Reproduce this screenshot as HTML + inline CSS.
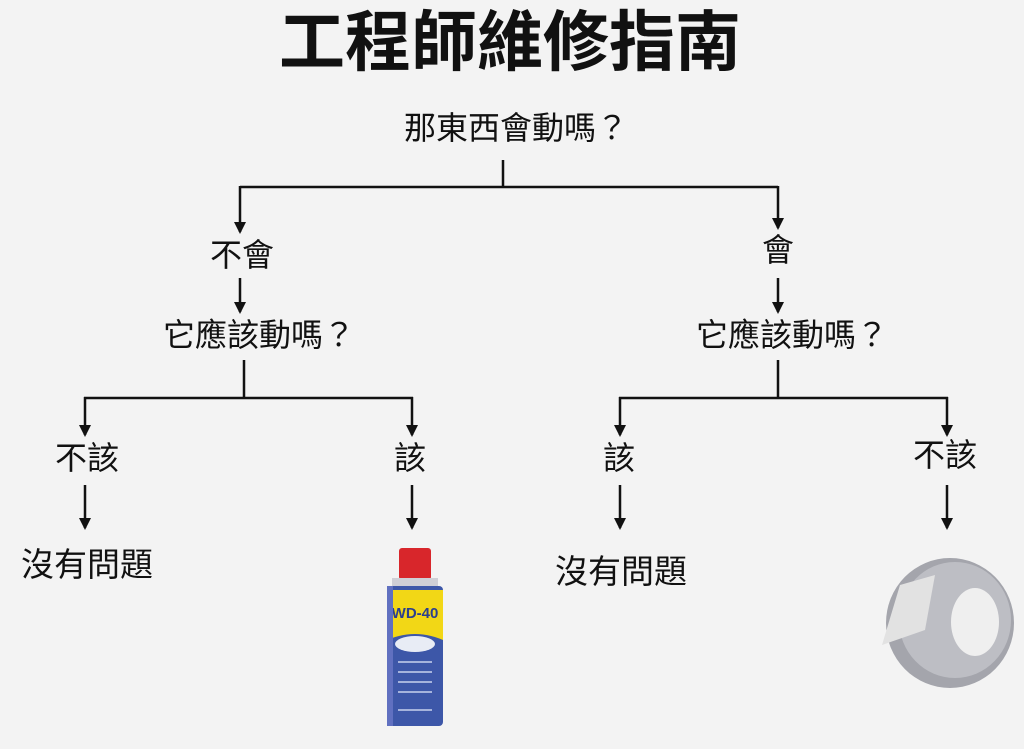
<!DOCTYPE html>
<html><head><meta charset="utf-8"><style>
html,body{margin:0;padding:0}
body{width:1024px;height:749px;background:#f3f3f3;position:relative;overflow:hidden;font-family:"Liberation Sans","Noto Sans CJK TC",sans-serif;color:#111}
.t{position:absolute;white-space:nowrap;line-height:1;transform:translateX(-50%)}
svg{position:absolute;left:0;top:0}
</style></head><body>
<svg width="1024" height="749" viewBox="0 0 1024 749">
<defs><marker id="a" markerWidth="12" markerHeight="12" refX="10" refY="6" orient="auto" markerUnits="userSpaceOnUse"><path d="M0,0 L12,6 L0,12 Z" fill="#111"/></marker></defs>
<g stroke="#111" stroke-width="2.5" fill="none">
<path d="M503 160 V187"/>
<path d="M240 187 H778"/>
<path d="M240 186 V232" marker-end="url(#a)"/>
<path d="M778 186 V228" marker-end="url(#a)"/>
<path d="M240 278 V312" marker-end="url(#a)"/>
<path d="M778 278 V312" marker-end="url(#a)"/>
<path d="M244 360 V398"/>
<path d="M84 398 H413"/>
<path d="M85 397 V435" marker-end="url(#a)"/>
<path d="M412 397 V435" marker-end="url(#a)"/>
<path d="M778 360 V398"/>
<path d="M619 398 H948"/>
<path d="M620 397 V435" marker-end="url(#a)"/>
<path d="M947 397 V435" marker-end="url(#a)"/>
<path d="M85 485 V528" marker-end="url(#a)"/>
<path d="M412 485 V528" marker-end="url(#a)"/>
<path d="M620 485 V528" marker-end="url(#a)"/>
<path d="M947 485 V528" marker-end="url(#a)"/>
</g>
<!-- WD-40 can -->
<rect x="399" y="548" width="32" height="32" rx="3" fill="#d8262b"/>
<rect x="392" y="578" width="46" height="10" fill="#cfcfd6"/>
<rect x="387" y="586" width="56" height="140" rx="4" fill="#3d57a8"/>
<path d="M387 590 H443 V640 Q415 628 387 640 Z" fill="#f2d716"/>
<text x="415" y="618" font-size="15" font-weight="bold" fill="#2b3f8f" text-anchor="middle" font-family="Liberation Sans">WD-40</text>
<ellipse cx="415" cy="644" rx="20" ry="8" fill="#e8ecf5"/>
<g stroke="#c8d2ee" stroke-width="1.5"><path d="M398 662H432M398 672H432M398 682H432M398 692H432M398 710H432"/></g>
<rect x="387" y="586" width="6" height="140" fill="#6070c0"/>
<!-- tape -->
<ellipse cx="950" cy="623" rx="64" ry="65" fill="#a4a5ac"/>
<ellipse cx="955" cy="620" rx="56" ry="58" fill="#bdbec4"/>
<ellipse cx="975" cy="622" rx="24" ry="34" fill="#efefef"/>
<path d="M900 585 L935 575 L925 630 L882 645 Z" fill="#e2e2e2"/>
</svg>
<div class="t" style="left:510px;top:9px;font-size:66px;font-weight:bold">工程師維修指南</div>
<div class="t" style="left:516px;top:112px;font-size:32px">那東西會動嗎？</div>
<div class="t" style="left:242px;top:239px;font-size:32px">不會</div>
<div class="t" style="left:259px;top:319px;font-size:32px">它應該動嗎？</div>
<div class="t" style="left:87px;top:442px;font-size:32px">不該</div>
<div class="t" style="left:410px;top:442px;font-size:32px">該</div>
<div class="t" style="left:87px;top:548px;font-size:33px">沒有問題</div>
<div class="t" style="left:778px;top:234px;font-size:32px">會</div>
<div class="t" style="left:792px;top:319px;font-size:32px">它應該動嗎？</div>
<div class="t" style="left:619px;top:442px;font-size:32px">該</div>
<div class="t" style="left:945px;top:439px;font-size:32px">不該</div>
<div class="t" style="left:621px;top:555px;font-size:33px">沒有問題</div>
</body></html>
